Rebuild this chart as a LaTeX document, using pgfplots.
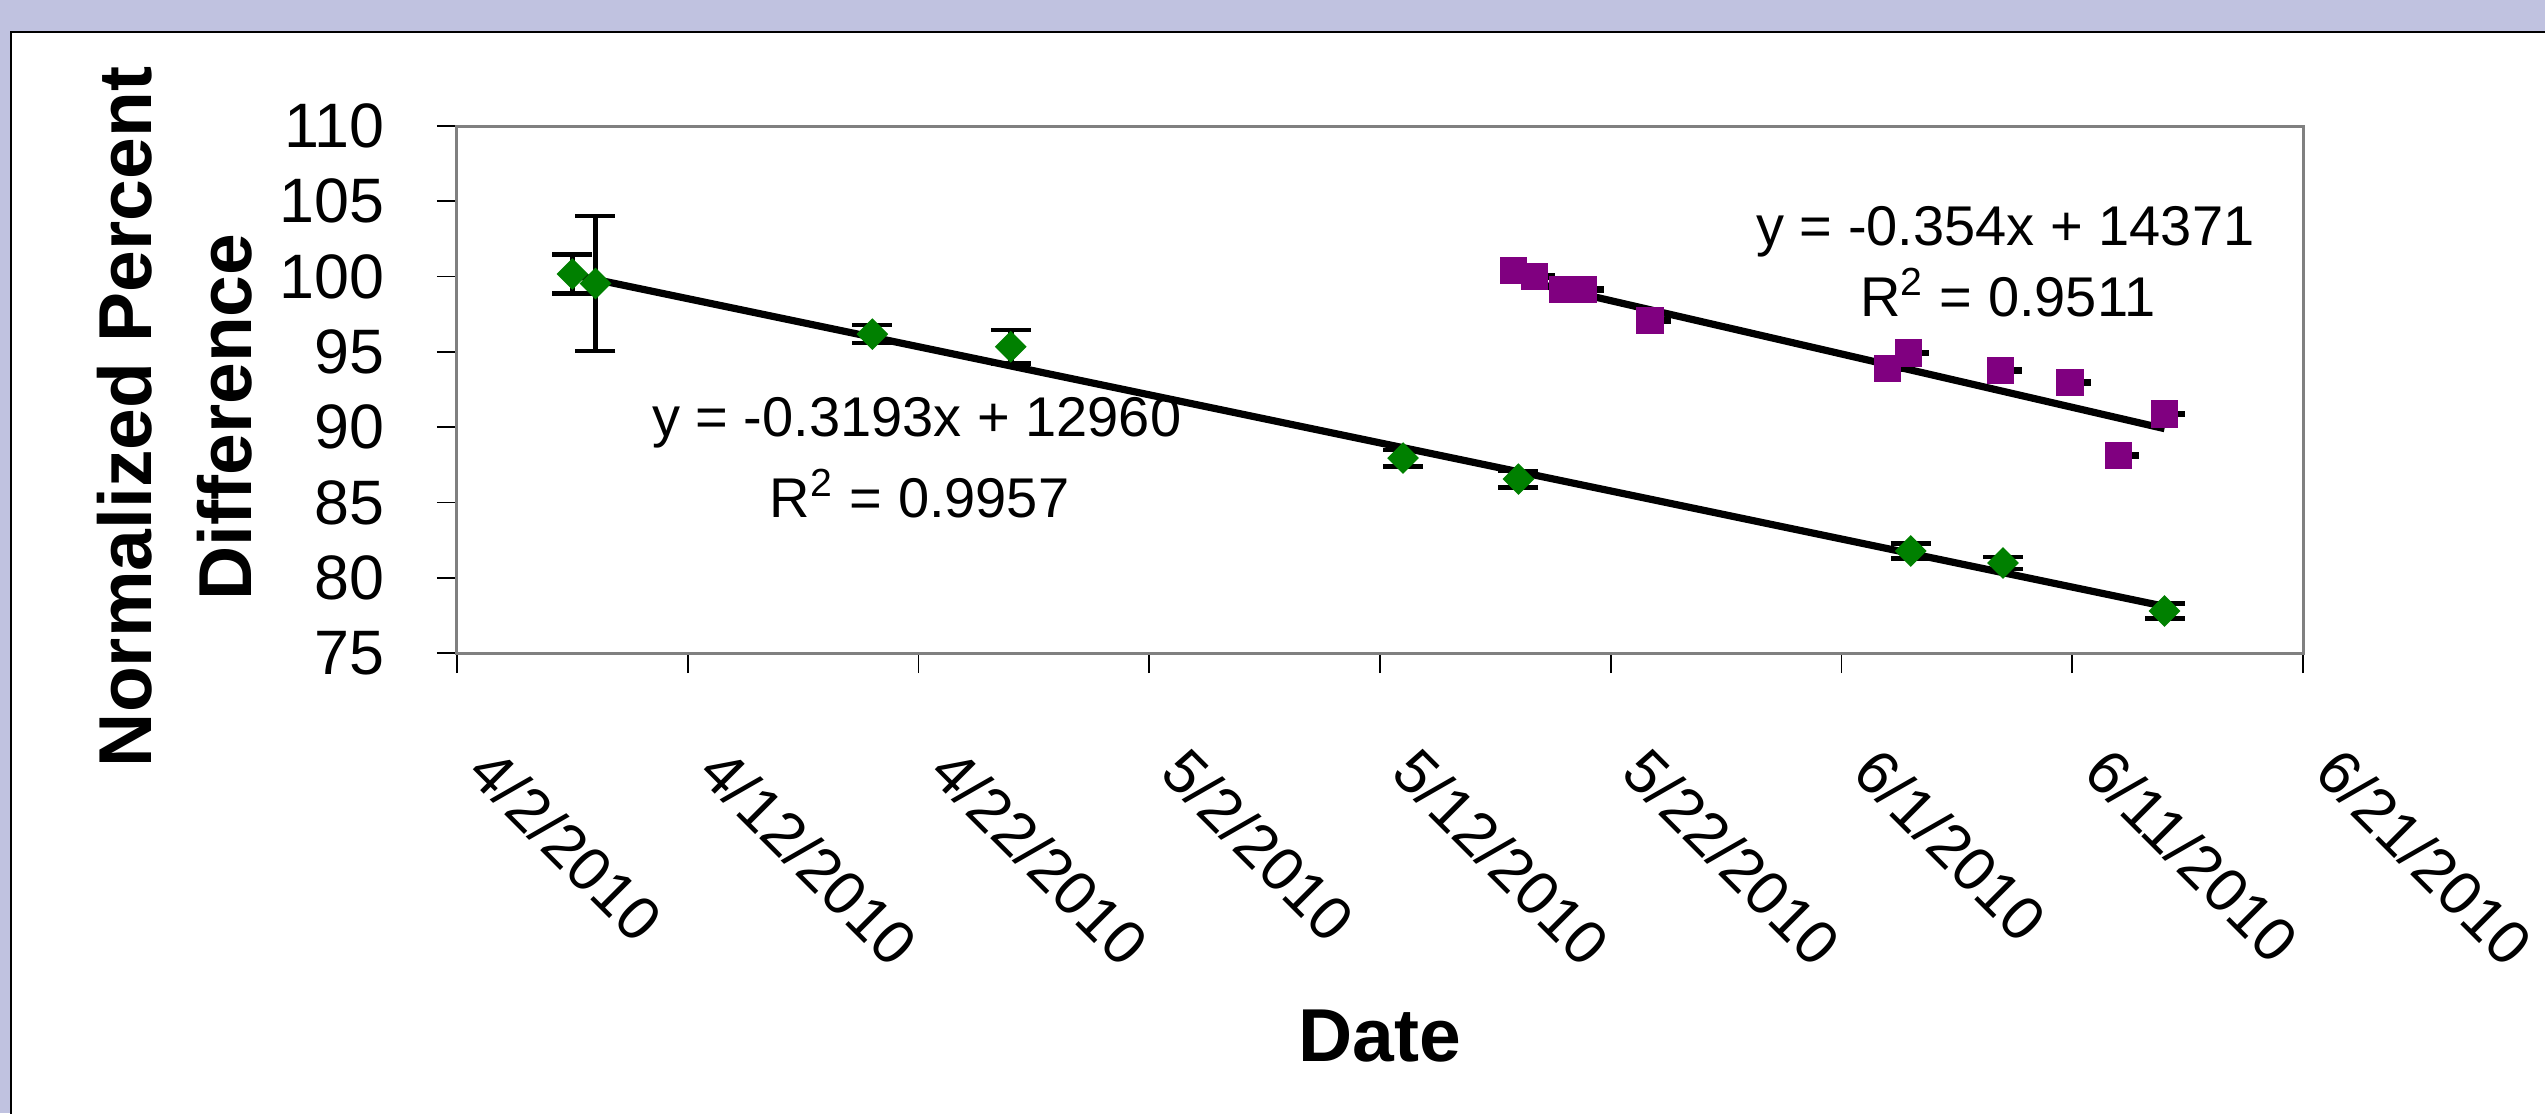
\documentclass[border=0pt]{standalone}
\usepackage{pgfplots}
\pgfplotsset{compat=1.18}
\usepackage{pgfplotstable}
\usepackage{fontspec}
\setmainfont{Liberation Sans}
\definecolor{lav}{RGB}{192,194,224}
\definecolor{xgreen}{RGB}{0,128,0}
\definecolor{xpurple}{RGB}{128,0,128}
\definecolor{axgray}{RGB}{128,128,128}

\pgfplotstableread{
x y e
5 100.17 1.3
6 99.54 4.5
18 96.18 0.6
24 95.34 1.1
41 87.95 0.55
46 86.55 0.55
63 81.77 0.5
67 80.98 0.4
74 77.79 0.5
}\greendata

\pgfplotstableread{
x y ex
45.8 100.39 0.9
46.7 100.01 0.9
47.9 99.12 0.9
48.8 99.12 0.9
51.7 97.09 0.9
62.0 93.92 0.9
62.9 94.93 0.9
66.9 93.78 0.9
69.9 92.95 0.9
72.0 88.12 0.9
74.0 90.87 0.9
}\purpledata

\begin{document}
\begin{tikzpicture}
\path[use as bounding box, fill=lav] (-114.25pt,-115pt) rectangle (522pt,163.25pt);
\filldraw[fill=white, draw=black, line width=0.4pt] (-111.5pt,-140pt) rectangle (540pt,155.25pt);
\begin{axis}[
  at={(0,0)}, anchor=south west,
  scale only axis, width=461.5pt, height=131.75pt,
  xmin=0, xmax=80, ymin=75, ymax=110,
  xtick={0,10,...,80},
  xticklabels={4/2/2010,4/12/2010,4/22/2010,5/2/2010,5/12/2010,5/22/2010,6/1/2010,6/11/2010,6/21/2010},
  ytick={75,80,...,110},
  /pgf/number format/assume math mode=true,
  tick pos=left, tick align=outside, major tick length=5pt,
  tick style={black, line width=0.4pt},
  axis line style={draw=axgray, line width=0.75pt},
  xticklabel style={font=\fontsize{15.4}{18}\selectfont, inner sep=0pt, anchor=west, xshift=6pt, yshift=-21.65pt, rotate=-45},
  yticklabel style={font=\fontsize{15.7}{18}\selectfont, inner sep=0pt, anchor=east, xshift=-12.9pt},
  xlabel={Date},
  xlabel style={font=\bfseries\fontsize{18.75}{22}\selectfont, at={(axis description cs:0.5,-0.775)}, anchor=base},
  ylabel={Normalized Percent\\Difference},
  ylabel style={font=\bfseries\fontsize{18.75}{25}\selectfont, align=center, at={(axis description cs:-0.15276,0.4478)}, anchor=center},
]
\addplot[only marks, mark=square*, mark size=2.6pt, mark options={rotate=45, fill=xgreen, draw=xgreen},
  error bars/.cd, y dir=both, y explicit,
  error bar style={black, line width=1.4pt},
  error mark options={black, line width=1.1pt, mark size=5pt, rotate=90}]
  table[x=x, y=y, y error=e] {\greendata};
\addplot[only marks, mark=square*, mark size=3.2pt, mark options={fill=xpurple, draw=xpurple},
  error bars/.cd, x dir=plus, x explicit,
  error bar style={black, line width=1.7pt},
  error mark=none]
  table[x=x, y=y, x error=ex] {\purpledata};
\addplot[black, line width=1.8pt] coordinates {(5,100.13) (74,78.10)};
\addplot[black, line width=1.8pt] coordinates {(45.8,99.89) (74,89.90)};
\node[anchor=base, font=\fontsize{14}{17}\selectfont] at (axis cs:19.92,89.36) {y = -0.3193x + 12960};
\node[anchor=base, font=\fontsize{14}{17}\selectfont] at (axis cs:20.05,84.01) {R\textsuperscript{2} = 0.9957};
\node[anchor=base, font=\fontsize{14}{17}\selectfont] at (axis cs:67.1,102.09) {y = -0.354x + 14371};
\node[anchor=base, font=\fontsize{14}{17}\selectfont] at (axis cs:67.2,97.33) {R\textsuperscript{2} = 0.9511};
\end{axis}
\end{tikzpicture}
\end{document}
